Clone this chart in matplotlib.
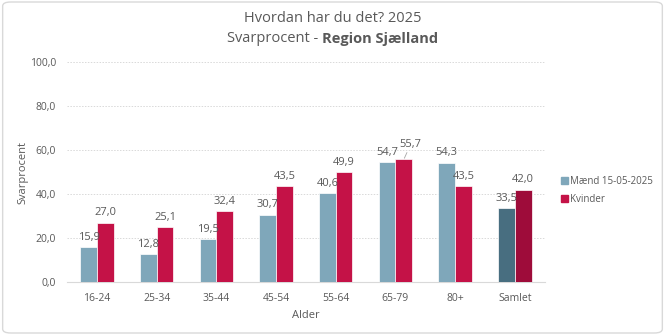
import matplotlib.pyplot as plt
from matplotlib.patches import FancyBboxPatch, Patch
import numpy as np

plt.rcParams['font.family'] = ['Open Sans', 'DejaVu Sans']

categories = ["16-24", "25-34", "35-44", "45-54", "55-64", "65-79", "80+", "Samlet"]
maend = [15.9, 12.8, 19.5, 30.7, 40.6, 54.7, 54.3, 33.5]
kvinder = [27.0, 25.1, 32.4, 43.5, 49.9, 55.7, 43.5, 42.0]
yticks = [0, 20, 40, 60, 80, 100]

BLUE = "#7fa7ba"
RED = "#c41247"
BLUE_D = "#486e80"
RED_D = "#9e0c3a"
TXT = "#595959"


def main():
    fig = plt.figure(figsize=(6.65, 3.35), dpi=100)
    ax = fig.add_axes([0.101, 0.158, 0.718, 0.657])

    # rounded border around the chart area
    fig.patches.append(FancyBboxPatch((0.004, 0.006), 0.992, 0.988,
                                      boxstyle="round,pad=0,rounding_size=0.012",
                                      transform=fig.transFigure, fill=False,
                                      edgecolor="#d9d9d9", linewidth=1.0))

    x = np.arange(len(categories))
    w = 0.28
    bc = [BLUE] * (len(categories) - 1) + [BLUE_D]
    rc = [RED] * (len(categories) - 1) + [RED_D]
    ax.bar(x - w / 2, maend, w, color=bc, edgecolor="white", linewidth=0.5, zorder=3)
    ax.bar(x + w / 2, kvinder, w, color=rc, edgecolor="white", linewidth=0.5, zorder=3)

    for i, v in enumerate(maend):
        ax.annotate(f"{v:.1f}".replace(".", ","), (x[i] - w / 2, v), xytext=(0, 3),
                    textcoords="offset points", ha="center", va="bottom",
                    fontsize=8, color=TXT, zorder=4)
    for i, v in enumerate(kvinder):
        lbl = f"{v:.1f}".replace(".", ",")
        if categories[i] == "65-79":
            ax.annotate(lbl, (x[i] + w / 2, v), xytext=(5, 7),
                        textcoords="offset points", ha="center", va="bottom",
                        fontsize=8, color=TXT, zorder=4,
                        arrowprops=dict(arrowstyle="-", color="#a6a6a6", lw=0.6,
                                        shrinkA=0, shrinkB=1))
        else:
            ax.annotate(lbl, (x[i] + w / 2, v), xytext=(0, 3),
                        textcoords="offset points", ha="center", va="bottom",
                        fontsize=8, color=TXT, zorder=4)

    ax.set_xlim(-0.5, len(categories) - 0.5)
    ax.set_ylim(0, 100)
    ax.set_yticks(yticks)
    ax.set_yticklabels([f"{t:.1f}".replace(".", ",") for t in yticks])
    ax.set_xticks(x)
    ax.set_xticklabels(categories)
    ax.tick_params(length=0, labelsize=7.5, colors=TXT, pad=8)
    ax.grid(axis="y", color="#d9d9d9", linestyle=(0, (1.5, 1.5)), linewidth=0.7, zorder=0)
    for s in ["top", "right", "left"]:
        ax.spines[s].set_visible(False)
    ax.spines["bottom"].set_color("#d9d9d9")

    ax.set_ylabel("Svarprocent", fontsize=8, color=TXT, labelpad=1)
    ax.set_xlabel("Alder", fontsize=8, color=TXT, labelpad=4)

    # title, second line has a bold part
    fig.text(0.5, 0.945, "Hvordan har du det? 2025", ha="center", va="center",
             fontsize=10.5, color=TXT)
    t1 = fig.text(0.5, 0.885, "Svarprocent - ", ha="left", va="center",
                  fontsize=10.5, color=TXT)
    t2 = fig.text(0.5, 0.885, "Region Sjælland", ha="left", va="center",
                  fontsize=10.5, color=TXT, fontweight="bold")
    fig.canvas.draw()
    r = fig.canvas.get_renderer()
    w1 = t1.get_window_extent(r).width / fig.bbox.width
    w2 = t2.get_window_extent(r).width / fig.bbox.width
    x0 = 0.5 - (w1 + w2) / 2
    t1.set_x(x0)
    t2.set_x(x0 + w1)

    handles = [Patch(color=BLUE, label="Mænd 15-05-2025"), Patch(color=RED, label="Kvinder")]
    fig.legend(handles=handles, loc="upper left", bbox_to_anchor=(0.83, 0.5),
               frameon=False, fontsize=7, labelcolor=TXT, handlelength=0.7,
               handleheight=0.7, handletextpad=0.3, labelspacing=0.7)

    plt.savefig("out.png", dpi=100)


if __name__ == "__main__":
    main()
